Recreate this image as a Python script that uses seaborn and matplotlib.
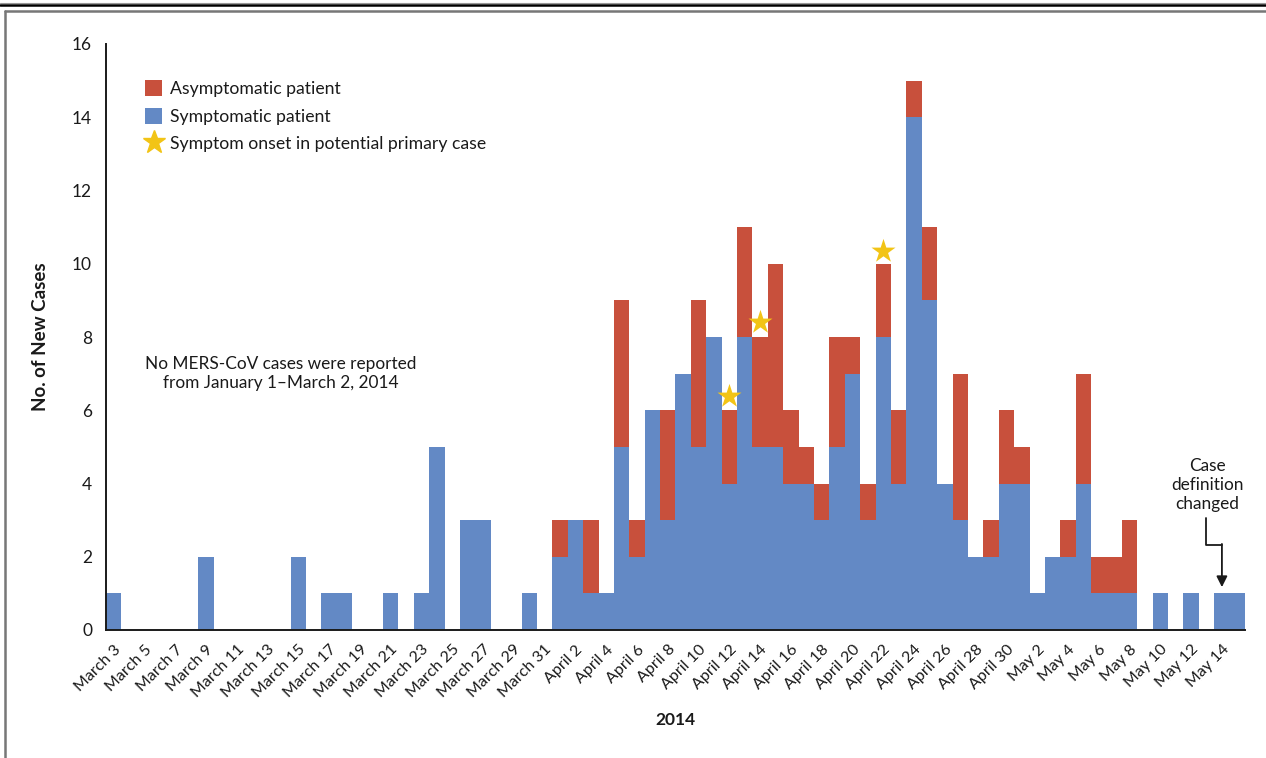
import pandas as pd
import matplotlib.pyplot as plt
import seaborn as sns
from matplotlib.lines import Line2D
from matplotlib.patches import Patch

# Daily new MERS-CoV cases, March 3 - May 15, 2014
days = pd.date_range("2014-03-03", "2014-05-15", freq="D")
day_labels = [f"{d.strftime('%B')} {d.day}" for d in days]

symptomatic = (
    # March 3-31
    [1, 0, 0, 0, 0, 0, 2, 0, 0, 0, 0, 0, 2, 0, 1, 1, 0, 0, 1, 0, 1, 5, 0, 3, 3, 0, 0, 1, 0]
    # April 1-30
    + [2, 3, 1, 1, 5, 2, 6, 3, 7, 5, 8, 4, 8, 5, 5, 4, 4, 3, 5, 7, 3, 8, 4, 14, 9, 4, 3, 2, 2, 4]
    # May 1-15
    + [4, 1, 2, 2, 4, 1, 1, 1, 0, 1, 0, 1, 0, 1, 1]
)
asymptomatic = (
    [0] * 29
    + [1, 0, 2, 0, 4, 1, 0, 3, 0, 4, 0, 2, 3, 3, 5, 2, 1, 1, 3, 1, 1, 2, 2, 1, 2, 0, 4, 0, 1, 2]
    + [1, 0, 0, 1, 3, 1, 1, 2, 0, 0, 0, 0, 0, 0, 0]
)

# symptom onset in potential primary case
star_days = ["April 12", "April 14", "April 22"]
star_heights = [6.4, 8.4, 10.35]

df = pd.DataFrame({"day": day_labels, "sym": symptomatic, "asym": asymptomatic})
df["total"] = df["sym"] + df["asym"]

blue = "#6389c5"
red = "#c8503c"
gold = "#f2c416"
ink = "#1a1a1a"

sns.set_style("white")
plt.rcParams["font.family"] = ["Lato", "DejaVu Sans"]

fig = plt.figure(figsize=(12.66, 7.58), dpi=100)
ax = fig.add_axes([106 / 1266, 1 - 630 / 758, 1139 / 1266, 586 / 758])

sns.barplot(data=df, x="day", y="total", order=day_labels, color=red, width=1.0,
            saturation=1, errorbar=None, linewidth=0, ax=ax)
sns.barplot(data=df, x="day", y="sym", order=day_labels, color=blue, width=1.0,
            saturation=1, errorbar=None, linewidth=0, ax=ax)

star_x = [day_labels.index(d) for d in star_days]
sns.scatterplot(x=star_x, y=star_heights, marker="*", s=330, color=gold,
                linewidth=0, zorder=5, ax=ax)

ax.set_xlim(-0.5, len(day_labels) - 0.5)
ax.set_ylim(0, 16)
ax.set_yticks(range(0, 17, 2))
ax.set_xticks(range(len(day_labels)))
ax.set_xticklabels([lab if i % 2 == 0 else "" for i, lab in enumerate(day_labels)],
                   rotation=45, ha="right", rotation_mode="anchor", fontsize=11.5)
for lab in ax.get_yticklabels():
    lab.set_fontsize(12.5)

ax.tick_params(axis="x", length=6, width=1.3, color=ink, pad=3, labelcolor=ink)
ax.tick_params(axis="y", length=7, width=1.3, color=ink, pad=3, labelcolor=ink)
sns.despine(ax=ax)
for s in ["left", "bottom"]:
    ax.spines[s].set_color(ink)
    ax.spines[s].set_linewidth(1.4)

ax.set_xlabel("2014", fontsize=12.5, fontweight="bold", color=ink)
ax.xaxis.set_label_coords(0.5, -0.14)
ax.set_ylabel("No. of New Cases", fontsize=13.5, fontweight="bold", color=ink)
ax.yaxis.set_label_coords(-0.05, 0.5)

# legend
handles = [
    Patch(facecolor=red, edgecolor="none", label="Asymptomatic patient"),
    Patch(facecolor=blue, edgecolor="none", label="Symptomatic patient"),
    Line2D([], [], marker="*", color=gold, linestyle="none", markersize=17,
           label="Symptom onset in potential primary case"),
]
ax.legend(handles=handles, loc="upper left", bbox_to_anchor=(0.034, 0.938),
          frameon=False, fontsize=12.7, handlelength=1.0, handleheight=1.0,
          handletextpad=0.45, labelspacing=0.6, borderpad=0, borderaxespad=0,
          labelcolor=ink)

ax.text(10.87, 7.0, "No MERS-CoV cases were reported\nfrom January 1\u2013March 2, 2014",
        ha="center", va="center", fontsize=12.4, color=ink, linespacing=1.2)

# case definition note with elbow arrow
tip_x = day_labels.index("May 14")
tip_y = symptomatic[tip_x] + 0.17
ax.text(tip_x - 0.95, 3.96, "Case\ndefinition\nchanged", ha="center", va="center",
        fontsize=12.4, color=ink, linespacing=1.2)
ax.plot([tip_x - 1.05, tip_x - 1.05, tip_x], [3.06, 2.32, 2.32], color=ink, lw=1.3)
ax.annotate("", xy=(tip_x, tip_y), xytext=(tip_x, 2.35),
            arrowprops=dict(arrowstyle="-|>", color=ink, lw=1.3, mutation_scale=16,
                            shrinkA=0, shrinkB=0))

# page frame
fig.add_artist(Line2D([0, 1], [1 - 4.5 / 758] * 2, color="black", lw=1.8, transform=fig.transFigure))
fig.add_artist(Line2D([0, 1], [1 - 3 / 758] * 2, color="#999999", lw=0.8, transform=fig.transFigure))
fig.add_artist(Line2D([5 / 1266, 1], [1 - 10.5 / 758] * 2, color="#777777", lw=1.8, transform=fig.transFigure))
fig.add_artist(Line2D([5 / 1266] * 2, [0, 1 - 10.5 / 758], color="#777777", lw=1.8, transform=fig.transFigure))

fig.savefig("out.png", dpi=100)
